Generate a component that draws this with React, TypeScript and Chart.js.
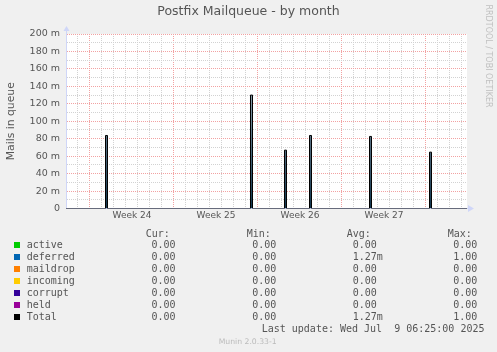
import React, { useEffect, useRef } from 'react';
import { Chart, registerables } from 'chart.js';

Chart.register(...registerables);

// ---- texts ----
const chartTitle = 'Postfix Mailqueue - by month';
const yAxisTitle = 'Mails in queue';
const sideNote = 'RRDTOOL / TOBI OETIKER';
const lastUpdate = 'Last update: Wed Jul  9 06:25:00 2025';
const versionNote = 'Munin 2.0.33-1';

// ---- x axis: days since Monday 2025-06-09 00:00 (start of ISO week 24) ----
const xMin = -2;
const xMax = 31.4167;
const weekStarts = [0, 7, 14, 21, 28];
const weekLabels = ['Week 24', 'Week 25', 'Week 26', 'Week 27'];

// ---- y axis ----
const yMin = 0;
const yMax = 0.2;
const yLabelValues = [0, 0.02, 0.04, 0.06, 0.08, 0.1, 0.12, 0.14, 0.16, 0.18, 0.2];
const yLabelTexts = ['0', '20 m', '40 m', '60 m', '80 m', '100 m', '120 m', '140 m', '160 m', '180 m', '200 m'];
const yMinorValues = [0.01, 0.03, 0.05, 0.07, 0.09, 0.11, 0.13, 0.15, 0.17, 0.19];

// ---- samples (consolidated averages) ----
const sampleDays = [-2, 1.2917, 1.4583, 13.375, 13.5417, 16.2083, 16.375, 18.2917, 18.4583, 23.2917, 23.4583, 28.2917, 28.4583, 31.4167];
const deferredValues = [0, 0.0837, 0, 0.13, 0, 0.0669, 0, 0.0837, 0, 0.0826, 0, 0.0646, 0, 0];
const totalValues = [0, 0.0837, 0, 0.13, 0, 0.0669, 0, 0.0837, 0, 0.0826, 0, 0.0646, 0, 0];

// ---- legend ----
const legendNames = ['active', 'deferred', 'maildrop', 'incoming', 'corrupt', 'held', 'Total'];
const legendColors = ['#00CC00', '#0066B3', '#FF8000', '#FFCC00', '#330099', '#990099', '#000000'];
const columnHeaders = ['Cur:', 'Min:', 'Avg:', 'Max:'];
const curValues = ['0.00', '0.00', '0.00', '0.00', '0.00', '0.00', '0.00'];
const minValues = ['0.00', '0.00', '0.00', '0.00', '0.00', '0.00', '0.00'];
const avgValues = ['0.00', '1.27m', '0.00', '0.00', '0.00', '0.00', '1.27m'];
const maxValues = ['0.00', '1.00', '0.00', '0.00', '0.00', '0.00', '1.00'];

// ---- styles ----
const FONT = "'DejaVu Sans', sans-serif";
const MONO = "'DejaVu Sans Mono', monospace";
const TEXT = '#555555';
const MAJOR_GRID = '#F2A2A2';
const MINOR_GRID = '#D2D2D2';
const AXIS = '#CFD6F8';
const NONE = 'rgba(0,0,0,0)';

const near = (a: number, b: number) => Math.abs(a - b) < 1e-6;

const weekMids = weekLabels.map((_, i) => (weekStarts[i] + weekStarts[i + 1]) / 2);

const muninPlugin = {
  id: 'muninExtras',
  beforeDraw(chart: any) {
    const { ctx, chartArea: a, width, height } = chart;
    ctx.save();
    ctx.fillStyle = '#F0F0F0';
    ctx.fillRect(0, 0, width, height);
    ctx.fillStyle = '#FFFFFF';
    ctx.fillRect(a.left, a.top, a.right - a.left, a.bottom - a.top);
    ctx.restore();
  },
  afterDraw(chart: any) {
    const { ctx, chartArea: a } = chart;
    ctx.save();
    // axis extensions and arrows
    const ax = Math.round(a.left) + 0.5;
    const ay = Math.floor(a.bottom) + 0.5;
    ctx.strokeStyle = AXIS;
    ctx.lineWidth = 1;
    ctx.beginPath();
    ctx.moveTo(ax, a.top);
    ctx.lineTo(ax, a.top - 4);
    ctx.moveTo(a.right, ay);
    ctx.lineTo(a.right + 2, ay);
    ctx.stroke();
    ctx.fillStyle = AXIS;
    ctx.beginPath();
    ctx.moveTo(ax, a.top - 8);
    ctx.lineTo(ax - 3, a.top - 3);
    ctx.lineTo(ax + 3, a.top - 3);
    ctx.closePath();
    ctx.fill();
    ctx.beginPath();
    ctx.moveTo(a.right + 7, ay);
    ctx.lineTo(a.right + 1, ay - 3.5);
    ctx.lineTo(a.right + 1, ay + 3.5);
    ctx.closePath();
    ctx.fill();

    // side note
    ctx.save();
    ctx.translate(488, 56);
    ctx.rotate(Math.PI / 2);
    ctx.font = `8px ${FONT}`;
    ctx.fillStyle = '#C0C0C0';
    ctx.textAlign = 'center';
    ctx.textBaseline = 'middle';
    ctx.fillText(sideNote, 0, 0);
    ctx.restore();

    // legend table
    ctx.font = `10px ${MONO}`;
    ctx.fillStyle = TEXT;
    ctx.textAlign = 'left';
    ctx.textBaseline = 'middle';
    const headerX = [145.7, 246.7, 346.7, 447.7];
    const valueX = [151.5, 252.3, 352.7, 453.3];
    columnHeaders.forEach((h, i) => ctx.fillText(h, headerX[i], 234));
    const cols = [curValues, minValues, avgValues, maxValues];
    legendNames.forEach((name, r) => {
      const y = 245.7 + r * 12;
      ctx.fillStyle = legendColors[r];
      ctx.fillRect(14, Math.round(y - 3.5), 6, 6);
      ctx.fillStyle = TEXT;
      ctx.fillText(name, 26.7, y);
      cols.forEach((col, c) => ctx.fillText(col[r], valueX[c], y));
    });
    ctx.fillText(lastUpdate, 261.7, 329.7);

    ctx.font = `7.7px ${FONT}`;
    ctx.fillStyle = '#BBBBBB';
    ctx.fillText(versionNote, 218.7, 341.7);
    ctx.restore();
  },
};

export default function App() {
  const ref = useRef<HTMLCanvasElement>(null);

  useEffect(() => {
    document.body.style.margin = '0';
    const canvas = ref.current;
    if (!canvas) return;

    const points = (vals: number[]) => sampleDays.map((d, i) => ({ x: d, y: vals[i] }));

    const chart = new Chart(canvas, {
      type: 'line',
      data: {
        datasets: [
          {
            label: 'Total',
            data: points(totalValues),
            borderColor: '#000000',
            borderWidth: 1,
            pointRadius: 0,
            stepped: true,
            fill: false,
            order: 0,
          },
          {
            label: 'deferred',
            data: points(deferredValues),
            borderColor: NONE,
            borderWidth: 0,
            pointRadius: 0,
            stepped: true,
            fill: 'origin',
            order: 1,
            backgroundColor: (c: any) => {
              const { chart: ch } = c;
              const area = ch.chartArea;
              if (!area) return '#1d4560';
              const g = ch.ctx.createLinearGradient(0, area.top, 0, area.bottom);
              g.addColorStop(0, '#c4d0d8');
              g.addColorStop(1, '#123650');
              return g;
            },
          },
        ],
      } as any,
      options: {
        responsive: false,
        animation: false,
        events: [],
        layout: { padding: 0 },
        plugins: {
          legend: { display: false },
          tooltip: { enabled: false },
          title: {
            display: true,
            text: chartTitle,
            color: TEXT,
            font: { family: FONT, size: 12.5, weight: 'normal' },
            padding: { top: 4.5, bottom: 14.5 },
          },
        },
        scales: {
          x: {
            type: 'linear',
            position: 'bottom',
            min: xMin,
            max: xMax,
            afterFit: (s: any) => {
              s.height = 143.5;
            },
            afterBuildTicks: (s: any) => {
              const days = Array.from({ length: Math.floor(xMax - xMin) + 1 }, (_, i) => xMin + i);
              const vals = [...days, ...weekMids].sort((a, b) => a - b);
              s.ticks = vals.map((v) => ({ value: v }));
            },
            ticks: {
              autoSkip: false,
              maxRotation: 0,
              minRotation: 0,
              padding: 2,
              color: TEXT,
              font: { family: FONT, size: 9 },
              callback: (v: any) => {
                const i = weekMids.findIndex((m) => near(m, Number(v)));
                return i >= 0 ? weekLabels[i] : '';
              },
            },
            grid: {
              drawTicks: false,
              lineWidth: 1,
              color: (c: any) => {
                const v = c.tick ? c.tick.value : undefined;
                if (v === undefined || near(v, xMin)) return NONE;
                if (weekStarts.some((w) => near(w, v))) return MAJOR_GRID;
                if (near(v, Math.round(v))) return MINOR_GRID;
                return NONE;
              },
            },
            border: { display: true, color: AXIS, width: 1, dash: [1, 1] },
          },
          y: {
            type: 'linear',
            position: 'left',
            min: yMin,
            max: yMax,
            afterFit: (s: any) => {
              s.width = 66;
            },
            afterBuildTicks: (s: any) => {
              const vals = [...yLabelValues, ...yMinorValues].sort((a, b) => a - b);
              s.ticks = vals.map((v) => ({ value: v }));
            },
            ticks: {
              autoSkip: false,
              padding: 6,
              color: TEXT,
              font: { family: FONT, size: 9.5 },
              callback: (v: any) => {
                const i = yLabelValues.findIndex((m) => near(m, Number(v)));
                return i >= 0 ? yLabelTexts[i] : '';
              },
            },
            grid: {
              drawTicks: false,
              lineWidth: 1,
              color: (c: any) => {
                const v = c.tick ? c.tick.value : undefined;
                if (v === undefined || near(v, yMin)) return NONE;
                if (yLabelValues.some((m) => near(m, v))) return MAJOR_GRID;
                return MINOR_GRID;
              },
            },
            border: { display: true, color: AXIS, width: 1, dash: [1, 1] },
            title: {
              display: true,
              text: yAxisTitle,
              color: TEXT,
              font: { family: FONT, size: 10.8 },
              padding: { top: 5, bottom: 0 },
            },
          },
          yr: {
            type: 'linear',
            position: 'right',
            display: true,
            afterFit: (s: any) => {
              s.width = 30;
            },
            ticks: { display: false },
            grid: { display: false, drawTicks: false },
            border: { display: false },
          },
        },
      } as any,
      plugins: [muninPlugin],
    });

    return () => chart.destroy();
  }, []);

  return (
    <div style={{ position: 'fixed', left: 0, top: 0, width: 497, height: 352, background: '#F0F0F0' }}>
      <canvas ref={ref} width={497} height={352} style={{ display: 'block', width: 497, height: 352 }} />
    </div>
  );
}
